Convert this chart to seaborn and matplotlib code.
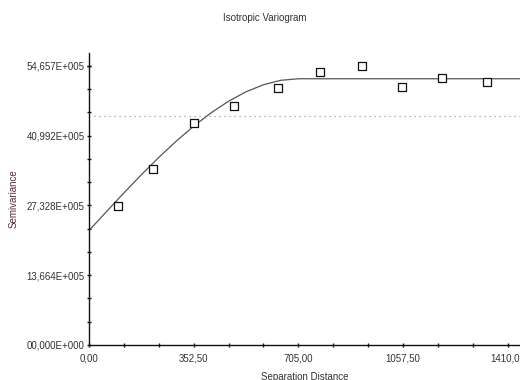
import matplotlib
matplotlib.use("Agg")
import matplotlib.pyplot as plt
import seaborn as sns
import pandas as pd
from matplotlib.ticker import FixedLocator

sns.set_theme(style="white")
plt.rcParams['font.family'] = ['Liberation Sans', 'DejaVu Sans']

# Experimental variogram points (semivariance in units of 1E+005)
lag_distance = [96.7, 214.5, 354.7, 489.4, 635.5, 778.0, 918.4, 1053.0, 1188.0, 1339.5]
semivariance = [27.26, 34.44, 43.50, 46.83, 50.23, 53.42, 54.54, 50.43, 52.25, 51.46]

# Fitted model curve
model_distance = [0, 58.75, 117.5, 176.25, 235, 293.75, 352.5, 411.25, 470,
                  528.75, 587.5, 646.25, 705, 1452]
model_semivariance = [22.40, 26.10, 29.76, 33.31, 36.70, 39.89, 42.82, 45.44,
                      47.70, 49.55, 50.93, 51.80, 52.10, 52.10]

# Dotted reference line (sample variance)
sample_variance = 44.87

x_ticks = [0, 352.5, 705, 1057.5, 1410]
x_tick_labels = ["0,00", "352,50", "705,00", "1057,50", "1410,00"]
y_ticks = [0, 13.664, 27.328, 40.992, 54.657]
y_tick_labels = ["00,000E+000", "13,664E+005", "27,328E+005", "40,992E+005", "54,657E+005"]

points = pd.DataFrame({"h": lag_distance, "g": semivariance})
model = pd.DataFrame({"h": model_distance, "g": model_semivariance})

fig = plt.figure(figsize=(5.2, 3.8), dpi=100)
ax = fig.add_axes([89 / 520, 1 - 345 / 380, 1 - 89 / 520, (345 - 53) / 380])

ax.axhline(sample_variance, xmin=5 / 431, color="#a0a0a0", linestyle=(0, (1, 3)), linewidth=0.9)
sns.lineplot(data=model, x="h", y="g", ax=ax, color="#555555", linewidth=0.9)
sns.scatterplot(data=points, x="h", y="g", ax=ax, marker="s", s=40,
                facecolor="white", edgecolor="#111111", linewidth=0.9, zorder=3)

ax.set_xlim(0, 1451.6)
ax.set_ylim(0, 57.14)
ax.set_xticks(x_ticks)
ax.set_xticklabels(x_tick_labels)
ax.set_yticks(y_ticks)
ax.set_yticklabels(y_tick_labels)
ax.xaxis.set_minor_locator(FixedLocator([117.5 * k for k in range(13)]))
ax.yaxis.set_minor_locator(FixedLocator([13.664 / 3 * k for k in range(13)]))

for s in ["top", "right"]:
    ax.spines[s].set_visible(False)
for s in ["left", "bottom"]:
    ax.spines[s].set_color("#111111")
    ax.spines[s].set_linewidth(1.0)

ax.tick_params(which="both", direction="inout", color="#111111", width=1.0,
               labelsize=7, labelcolor="#333333", left=True, bottom=True)
ax.tick_params(which="both", length=3.5)
ax.tick_params(axis="y", which="major", pad=1.5)
ax.tick_params(axis="x", which="major", pad=4.5)
ax.set_xlabel("Separation Distance", fontsize=7, color="#333333")
ax.xaxis.set_label_coords(0.5, -27 / 292)
ax.set_ylabel("Semivariance", fontsize=7, color="#5a2a3a")
ax.yaxis.set_label_coords(-70 / 431, 0.5)
fig.text(265 / 520, 1 - 18 / 380, "Isotropic Variogram", fontsize=7,
         color="#333333", ha="center", va="center")

fig.savefig("out.png", dpi=100)
